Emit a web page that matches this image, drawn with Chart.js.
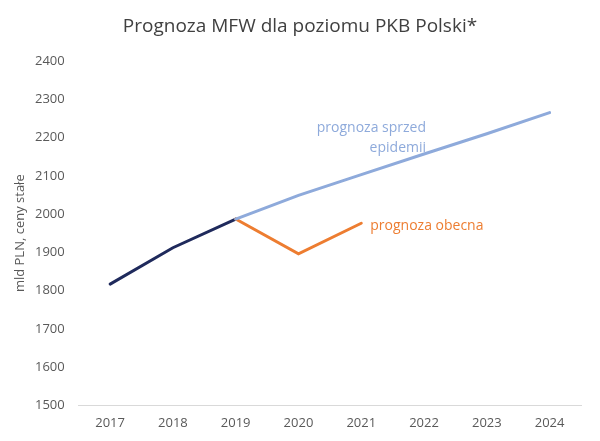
<!DOCTYPE html>
<html>
<head>
<meta charset="utf-8">
<script src="https://cdn.jsdelivr.net/npm/chart.js@4"></script>
<style>
  body { margin: 0; background: #fff; }
  #wrap { width: 600px; height: 441px; }
</style>
</head>
<body>
<div id="wrap"><canvas id="chart" width="600" height="441"></canvas></div>
<script>
// dane (mld PLN, ceny stałe)
const years = ['2017', '2018', '2019', '2020', '2021', '2022', '2023', '2024'];
const historia = [1817, 1912, 1987, null, null, null, null, null];
const przedEpidemia = [null, null, 1987, 2049, 2103, 2157, 2210, 2265];
const obecna = [null, null, 1987, 1896, 1976, null, null, null];
const yTicks = [1500, 1600, 1700, 1800, 1900, 2000, 2100, 2200, 2300, 2400];

const FONT = "'Open Sans', 'Liberation Sans', sans-serif";

// tytuł, opis osi Y i podpisy serii rysowane ręcznie
const seriesLabels = {
    id: 'seriesLabels',
    afterDatasetsDraw(chart) {
        const { ctx, chartArea, scales: { x, y } } = chart;
        ctx.save();
        ctx.font = '19px ' + FONT;
        ctx.fillStyle = '#404040';
        ctx.textAlign = 'center';
        ctx.textBaseline = 'middle';
        ctx.fillText('Prognoza MFW dla poziomu PKB Polski*', chart.width / 2, 27);

        // opis osi Y
        ctx.save();
        ctx.font = '13px ' + FONT;
        ctx.fillStyle = '#595959';
        ctx.translate(20, (chartArea.top + chartArea.bottom) / 2);
        ctx.rotate(-Math.PI / 2);
        ctx.fillText('mld PLN, ceny stałe', 0, 0);
        ctx.restore();

        ctx.font = '14px ' + FONT;
        ctx.fillStyle = '#8eaadb';
        ctx.textAlign = 'right';
        ctx.fillText('prognoza sprzed', x.getPixelForValue(5) + 2, y.getPixelForValue(2225));
        ctx.fillText('epidemii', x.getPixelForValue(5) + 2, y.getPixelForValue(2173));
        ctx.fillStyle = '#ed7d31';
        ctx.textAlign = 'left';
        ctx.fillText('prognoza obecna', x.getPixelForValue(4) + 9, y.getPixelForValue(1968));
        ctx.restore();
    }
};

new Chart(document.getElementById('chart'), {
    type: 'line',
    data: {
        labels: years,
        datasets: [{
            label: 'prognoza sprzed epidemii',
            data: przedEpidemia,
            borderColor: '#8eaadb',
            borderWidth: 3
        }, {
            label: 'prognoza obecna',
            data: obecna,
            borderColor: '#ed7d31',
            borderWidth: 3
        }, {
            label: 'dane',
            data: historia,
            borderColor: '#1f2a5c',
            borderWidth: 3
        }]
    },
    options: {
        responsive: false,
        animation: false,
        spanGaps: false,
        elements: {
            point: { radius: 0 },
            line: { tension: 0, borderCapStyle: 'round' }
        },
        layout: { padding: { left: 21, right: 19, top: 61, bottom: 0 } },
        scales: {
            x: {
                offset: true,
                grid: { display: false, drawTicks: false },
                border: { display: true, color: '#d9d9d9', width: 1 },
                ticks: { color: '#595959', font: { family: FONT, size: 13 }, padding: 10 }
            },
            y: {
                min: 1500,
                max: 2400,
                afterBuildTicks: axis => { axis.ticks = yTicks.map(v => ({ value: v })); },
                grid: { display: false, drawTicks: false },
                border: { display: false },
                ticks: {
                    color: '#595959',
                    font: { family: FONT, size: 13 },
                    padding: 14,
                    callback: v => String(v)
                }
            }
        },
        plugins: {
            legend: { display: false },
            tooltip: { enabled: false },
            title: { display: false }
        }
    },
    plugins: [seriesLabels]
});
</script>
</body>
</html>
